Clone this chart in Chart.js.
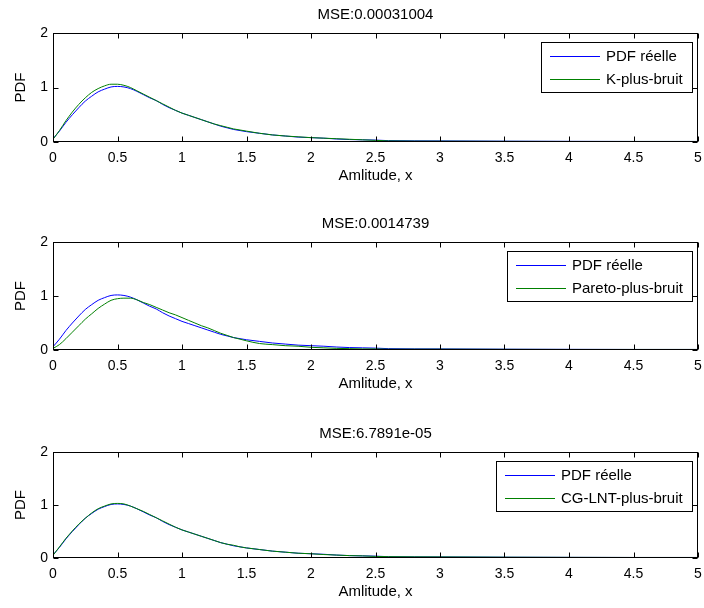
<!DOCTYPE html>
<html>
<head>
  <title>PDF amplitude</title>
  <script src="https://cdn.jsdelivr.net/npm/chart.js"></script>
  <style>
    body { margin: 0; background: #fff; }
    canvas { position: absolute; left: 0; }
  </style>
</head>
<body>
  <canvas id="c1" width="704" height="192" style="top:0px"></canvas>
  <canvas id="c2" width="704" height="191" style="top:209px"></canvas>
  <canvas id="c3" width="704" height="189" style="top:419px"></canvas>

  <script>
    // amplitude grid (finer where the curves move, coarse on the flat tail)
    const amplitude = [0, 0.05, 0.1, 0.15, 0.2, 0.25, 0.3, 0.35, 0.4, 0.45, 0.5, 0.55, 0.6, 0.65, 0.7, 0.75,
      0.8, 0.85, 0.9, 0.95, 1, 1.05, 1.1, 1.15, 1.2, 1.25, 1.3, 1.35, 1.4, 1.45, 1.5,
      1.6, 1.7, 1.8, 1.9, 2, 2.1, 2.2, 2.3, 2.4, 2.5, 2.6,
      3, 3.5, 4, 4.5, 5];

    const pdfReelle = [0.06, 0.2, 0.36, 0.5, 0.63, 0.75, 0.84, 0.92, 0.97, 1.01, 1.02, 1.01, 0.98, 0.93, 0.87, 0.81,
      0.76, 0.69, 0.63, 0.58, 0.53, 0.49, 0.45, 0.41, 0.37, 0.33, 0.29, 0.26, 0.23, 0.21, 0.19,
      0.16, 0.13, 0.11, 0.09, 0.08, 0.07, 0.055, 0.045, 0.04, 0.035, 0.025,
      0.02, 0.015, 0.012, 0.01, 0.01];

    const kPlusBruit = [0.05, 0.21, 0.39, 0.55, 0.69, 0.81, 0.91, 0.98, 1.03, 1.06, 1.06, 1.04, 1.0, 0.94, 0.88, 0.82,
      0.76, 0.7, 0.64, 0.58, 0.53, 0.49, 0.45, 0.41, 0.37, 0.33, 0.3, 0.27, 0.24, 0.22, 0.2,
      0.16, 0.13, 0.11, 0.095, 0.08, 0.07, 0.06, 0.05, 0.04, 0.03, 0.02,
      0.015, 0.012, 0.01, 0.01, 0.01];

    const paretoPlusBruit = [0.03, 0.1, 0.21, 0.33, 0.45, 0.57, 0.67, 0.77, 0.85, 0.92, 0.95, 0.96, 0.96, 0.93, 0.88, 0.84,
      0.79, 0.74, 0.69, 0.65, 0.6, 0.55, 0.5, 0.45, 0.41, 0.36, 0.31, 0.27, 0.23, 0.2, 0.17,
      0.12, 0.1, 0.08, 0.07, 0.05, 0.04, 0.03, 0.025, 0.02, 0.02, 0.015,
      0.015, 0.012, 0.01, 0.01, 0.01];

    const cgLntPlusBruit = [0.05, 0.21, 0.37, 0.51, 0.64, 0.75, 0.85, 0.93, 0.98, 1.02, 1.03, 1.02, 0.98, 0.93, 0.88, 0.82,
      0.76, 0.7, 0.64, 0.58, 0.53, 0.49, 0.45, 0.41, 0.37, 0.33, 0.29, 0.26, 0.24, 0.21, 0.19,
      0.16, 0.13, 0.11, 0.09, 0.08, 0.065, 0.055, 0.045, 0.04, 0.03, 0.025,
      0.02, 0.015, 0.012, 0.01, 0.01];

    const xTicks = [0, 0.5, 1, 1.5, 2, 2.5, 3, 3.5, 4, 4.5, 5];
    const yTicks = [0, 1, 2];

    const titles = ['MSE:0.00031004', 'MSE:0.0014739', 'MSE:6.7891e-05'];
    const modelNames = ['K-plus-bruit', 'Pareto-plus-bruit', 'CG-LNT-plus-bruit'];
    const modelValues = [kPlusBruit, paretoPlusBruit, cgLntPlusBruit];

    const FONT = '"Liberation Sans", Arial, Helvetica, sans-serif';
    const BLUE = '#0000ff', GREEN = '#008000';

    // box, inward ticks and the in-axes legend, drawn over the curves
    const matlabAxes = {
      id: 'matlabAxes',
      afterDraw(chart) {
        const ctx = chart.ctx, a = chart.chartArea;
        const sx = chart.scales.x, sy = chart.scales.y;
        const L = Math.round(a.left) + 0.5, R = Math.round(a.right) - 0.5;
        const T = Math.round(a.top) + 0.5, B = Math.round(a.bottom) - 0.5;
        ctx.save();
        ctx.strokeStyle = '#000';
        ctx.lineWidth = 1;
        ctx.beginPath();
        sx.ticks.forEach(t => {
          const px = Math.round(sx.getPixelForValue(t.value)) + 0.5;
          ctx.moveTo(px, B); ctx.lineTo(px, B - 5);
          ctx.moveTo(px, T); ctx.lineTo(px, T + 5);
        });
        sy.ticks.forEach(t => {
          const py = Math.round(sy.getPixelForValue(t.value)) + 0.5;
          ctx.moveTo(L, py); ctx.lineTo(L + 5, py);
          ctx.moveTo(R, py); ctx.lineTo(R - 5, py);
        });
        ctx.stroke();
        ctx.strokeRect(L, T, R - L, B - T);

        // legend
        const sets = chart.data.datasets;
        ctx.font = '15px ' + FONT;
        const textW = Math.max(...sets.map(d => ctx.measureText(d.label).width));
        const right = Math.round(a.right) - 6, top = Math.round(a.top) + 9;
        const w = Math.round(9 + 50 + 6 + textW + 9), h = 50;
        const left = right - w;
        ctx.fillStyle = '#fff';
        ctx.fillRect(left, top, w, h);
        ctx.strokeStyle = '#000';
        ctx.strokeRect(left + 0.5, top + 0.5, w, h);
        ctx.textBaseline = 'middle';
        ctx.textAlign = 'left';
        sets.forEach((d, i) => {
          const y = top + 14 + i * 23;
          ctx.strokeStyle = d.borderColor;
          ctx.beginPath();
          ctx.moveTo(left + 9, y + 0.5);
          ctx.lineTo(left + 59, y + 0.5);
          ctx.stroke();
          ctx.fillStyle = '#000';
          ctx.fillText(d.label, left + 65, y + 1);
        });
        ctx.restore();
      }
    };

    function makePanel(id, i) {
      const toPoints = vals => amplitude.map((x, k) => ({ x, y: vals[k] }));
      return new Chart(document.getElementById(id), {
        type: 'line',
        data: {
          datasets: [
            { label: 'PDF réelle', data: toPoints(pdfReelle), borderColor: BLUE, order: 1 },
            { label: modelNames[i], data: toPoints(modelValues[i]), borderColor: GREEN, order: 0 }
          ]
        },
        options: {
          responsive: false,
          animation: false,
          events: [],
          elements: {
            point: { radius: 0 },
            line: { borderWidth: 1, cubicInterpolationMode: 'monotone' }
          },
          layout: { padding: { left: 0, right: 6, top: 0, bottom: 0 } },
          plugins: {
            legend: { display: false },
            tooltip: { enabled: false },
            title: {
              display: true,
              text: titles[i],
              fullSize: false,
              color: '#000',
              font: { family: FONT, size: 15, weight: 'normal' },
              padding: { top: 6, bottom: 9 }
            }
          },
          scales: {
            x: {
              type: 'linear',
              min: 0, max: 5,
              afterBuildTicks: s => { s.ticks = xTicks.map(v => ({ value: v })); },
              afterFit: s => { s.height = 50; s.paddingLeft = 0; s.paddingRight = 0; },
              grid: { display: false, drawTicks: false },
              border: { display: false },
              ticks: {
                color: '#000', padding: 8, maxRotation: 0, autoSkip: false,
                font: { family: FONT, size: 14 },
                callback: v => String(v)
              },
              title: {
                display: true, text: 'Amlitude, x', color: '#000',
                font: { family: FONT, size: 15 },
                padding: { top: 0, bottom: 7 }
              }
            },
            y: {
              min: 0, max: 2,
              afterBuildTicks: s => { s.ticks = yTicks.map(v => ({ value: v })); },
              afterFit: s => { s.width = 53; s.paddingTop = 0; s.paddingBottom = 0; },
              grid: { display: false, drawTicks: false },
              border: { display: false },
              ticks: {
                color: '#000', padding: 5,
                font: { family: FONT, size: 14 },
                callback: v => String(v)
              },
              title: {
                display: true, text: 'PDF', color: '#000',
                font: { family: FONT, size: 15 },
                padding: { top: 12, bottom: 0 }
              }
            }
          }
        },
        plugins: [matlabAxes]
      });
    }

    makePanel('c1', 0);
    makePanel('c2', 1);
    makePanel('c3', 2);
  </script>
</body>
</html>
